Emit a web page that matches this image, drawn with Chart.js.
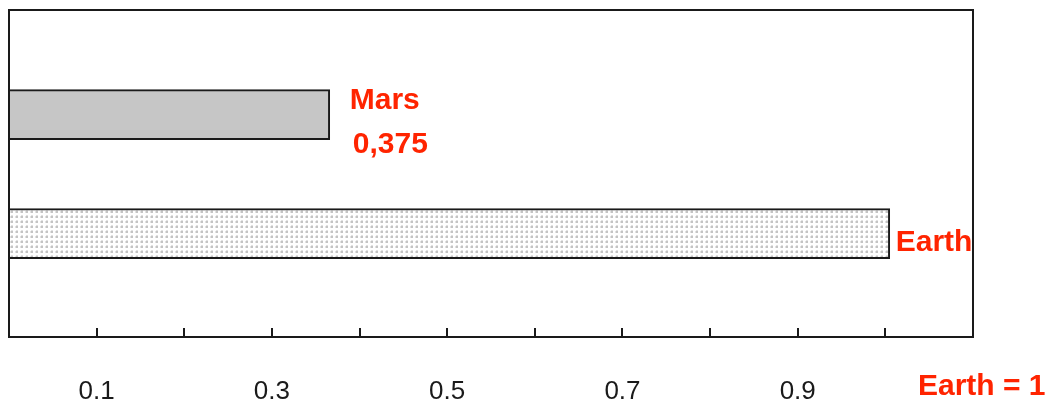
<!DOCTYPE html>
<html>
<head>
<meta charset="utf-8">
<script src="https://cdn.jsdelivr.net/npm/chart.js@4/dist/chart.umd.min.js"></script>
<style>
  html, body { margin: 0; padding: 0; background: #ffffff; }
  #wrap { width: 1058px; height: 405px; position: relative; }
</style>
</head>
<body>
<div id="wrap"><canvas id="c" width="1058" height="405"></canvas></div>
<script>
// ---- data ----
const categories = ['Mars', 'Earth'];
const gravityValues = [0.366, 1.005];
const valueLabels = ['0,375', ''];
const tickLabels = ['0.1', '0.3', '0.5', '0.7', '0.9'];
const unitNote = 'Earth = 1';

// ---- styles ----
const RED = '#ff2400';
const INK = '#1a1a1a';

function dotPattern() {
  const p = document.createElement('canvas');
  p.width = 5; p.height = 5;
  const g = p.getContext('2d');
  g.fillStyle = '#ffffff';
  g.fillRect(0, 0, 5, 5);
  g.fillStyle = '#c4c4c4';
  g.fillRect(1, 1, 2, 2);
  g.fillStyle = '#e2e2e2';
  g.fillRect(0, 1, 1, 2);
  g.fillRect(1, 0, 2, 1);
  return document.getElementById('c').getContext('2d').createPattern(p, 'repeat');
}

const fills = ['#c6c6c6', dotPattern()];

const framePlugin = {
  id: 'frame',
  afterDatasetsDraw(chart) {
    const { ctx, chartArea: a, scales } = chart;
    const xs = scales.x;
    ctx.save();
    // inner tick marks
    ctx.strokeStyle = INK;
    ctx.lineWidth = 2;
    xs.ticks.forEach((t, i) => {
      if (i === 0 || i === xs.ticks.length - 1) return;
      const px = Math.round(xs.getPixelForValue(t.value));
      ctx.beginPath();
      ctx.moveTo(px, a.bottom);
      ctx.lineTo(px, a.bottom - 9);
      ctx.stroke();
    });
    // frame
    ctx.strokeRect(a.left, a.top, a.right - a.left, a.bottom - a.top);
    ctx.restore();
  },
  afterDraw(chart) {
    const { ctx, chartArea: a, scales } = chart;
    const xs = scales.x, ys = scales.y;
    ctx.save();
    ctx.fillStyle = RED;
    ctx.font = 'bold 30px "Liberation Sans", Arial, sans-serif';
    ctx.textAlign = 'left';
    ctx.textBaseline = 'alphabetic';
    // Mars
    const mx = xs.getPixelForValue(gravityValues[0]);
    const my = ys.getPixelForValue(1);
    ctx.fillText(categories[0], mx + 20, my - 6);
    ctx.fillText(valueLabels[0], mx + 23, my + 38);
    // Earth
    const ex = xs.getPixelForValue(gravityValues[1]);
    const ey = ys.getPixelForValue(2);
    ctx.fillText(categories[1], ex + 6, ey + 17);
    // unit note
    ctx.fillText(unitNote, a.right - 55, 395);
    ctx.restore();
  }
};

new Chart(document.getElementById('c'), {
  type: 'bar',
  data: {
    datasets: [{
      data: categories.map((c, i) => ({ x: gravityValues[i], y: i + 1 })),
      backgroundColor: fills,
      borderColor: INK,
      borderWidth: 2,
      borderSkipped: 'start',
      barThickness: 50
    }]
  },
  options: {
    indexAxis: 'y',
    responsive: false,
    animation: false,
    layout: { padding: { left: 9, top: 10, right: 85, bottom: 0 } },
    plugins: { legend: { display: false }, tooltip: { enabled: false } },
    scales: {
      x: {
        type: 'linear',
        position: 'bottom',
        min: 0,
        max: 1.1,
        grid: {
          display: true,
          drawOnChartArea: false,
          drawTicks: true,
          tickLength: 42,
          tickColor: 'rgba(0,0,0,0)'
        },
        border: { display: false },
        afterFit(scale) { scale.height = 68; },
        ticks: {
          stepSize: 0.1,
          padding: 0,
          color: INK,
          font: { family: '"Liberation Sans", Arial, sans-serif', size: 26, lineHeight: 1 },
          autoSkip: false,
          maxRotation: 0,
          callback(v) {
            const s = Number(v).toFixed(1);
            return tickLabels.includes(s) ? s : '';
          }
        }
      },
      y: {
        type: 'linear',
        reverse: true,
        display: false,
        offset: false,
        min: 0.12,
        max: 2.87
      }
    }
  },
  plugins: [framePlugin]
});
</script>
</body>
</html>
